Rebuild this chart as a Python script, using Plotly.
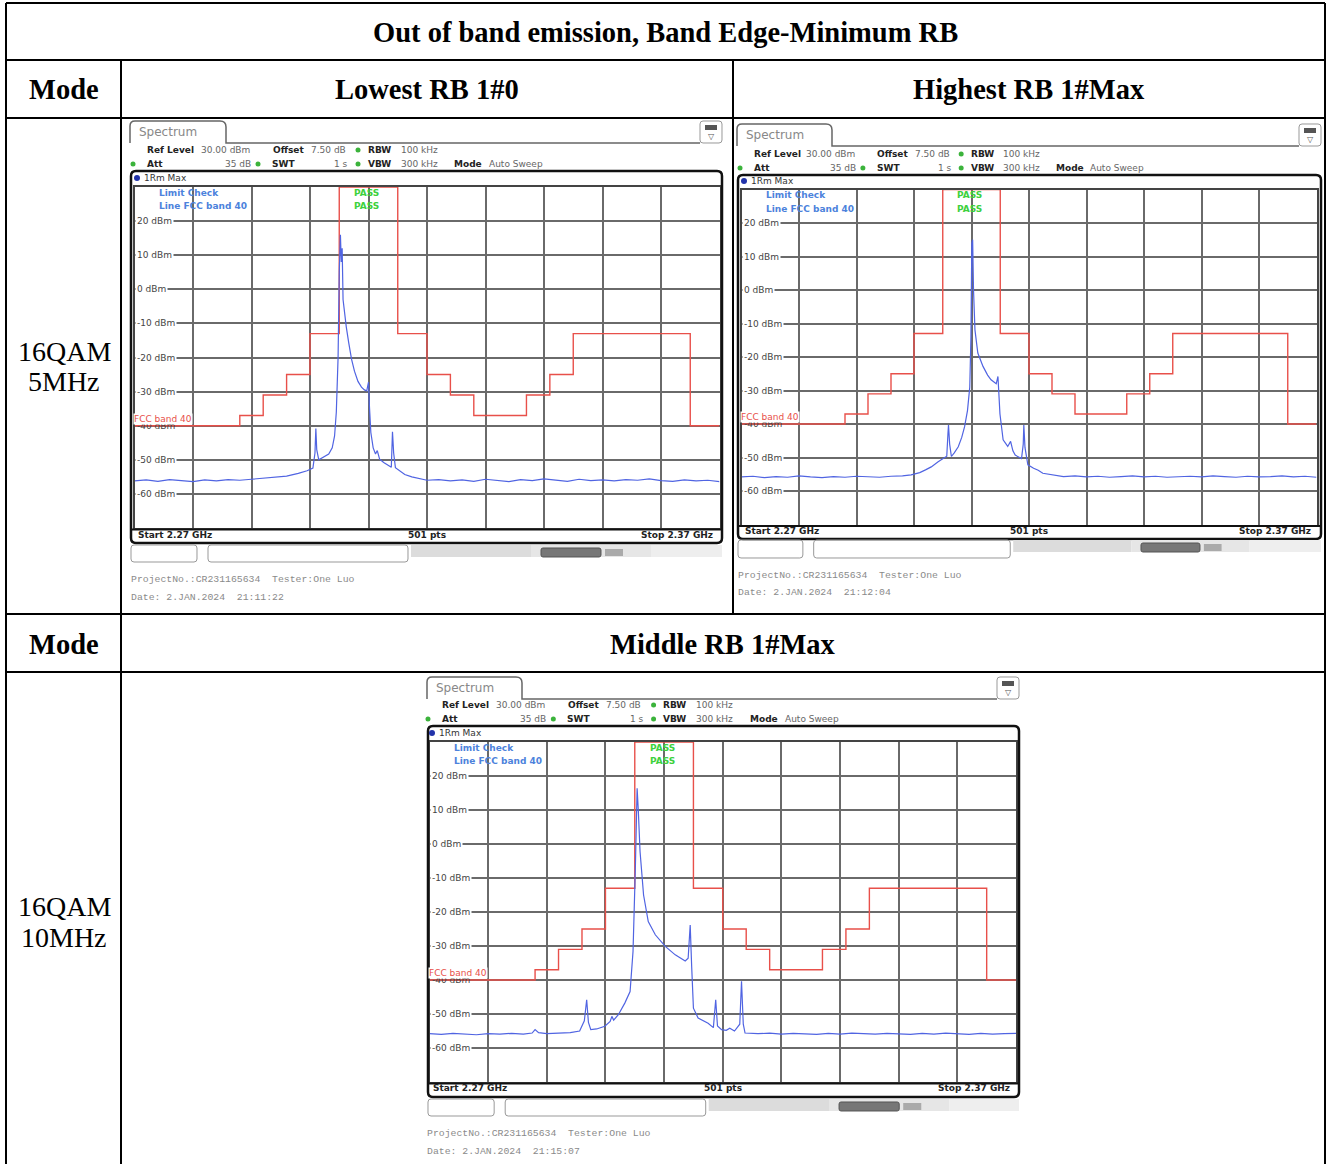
import plotly.graph_objects as go

W, H = 1327, 1164

# ---------------- data ----------------
f_start, f_stop = 2270, 2370          # MHz (Start 2.27 GHz / Stop 2.37 GHz)
level_top, level_bottom = 30, -70     # dBm
level_ticks = [20, 10, 0, -10, -20, -30, -40, -50, -60]
sweep_points = 501

# FCC band 40 limit line (step breakpoints, MHz / dBm)
limit_freq = [2270, 2288, 2292, 2296, 2300, 2305, 2315, 2320, 2324, 2328, 2337, 2341, 2345, 2365, 2370]
limit_dbm = [-40, -37, -31, -25, -13, 30, -13, -25, -31, -37, -31, -25, -13, -40, -40]

# Trace 1Rm Max, Lowest RB 1#0 (16QAM 5MHz)
lowest_freq = [2270, 2272, 2274, 2276, 2278, 2280, 2282, 2284, 2286, 2288, 2290, 2292, 2294, 2296, 2298,
               2299.5, 2300.5, 2300.85, 2301.0, 2301.15, 2301.5, 2302.3, 2303.2, 2303.8, 2304.2, 2304.5,
               2304.8, 2305.0, 2305.2, 2305.35, 2305.5, 2305.65, 2305.9, 2306.2, 2306.6, 2307.1, 2307.6,
               2308.2, 2308.8, 2309.3, 2309.7, 2310.0, 2310.15, 2310.4, 2310.8, 2311.2, 2311.5, 2311.9,
               2312.6, 2313.4, 2313.9, 2314.1, 2314.3, 2314.6, 2315.3, 2316.2, 2317.4, 2318.6, 2320,
               2322, 2324, 2326, 2328, 2330, 2332, 2334, 2336, 2338, 2340, 2342, 2344, 2346, 2348, 2350,
               2352, 2354, 2356, 2358, 2360, 2362, 2364, 2366, 2368, 2370]
lowest_dbm = [-56.2, -55.9, -56.3, -55.8, -56.1, -56.4, -55.9, -56.2, -55.8, -56.0, -55.7, -55.4, -55.2, -54.8, -54.0,
              -53.2, -52.4, -48.0, -40.8, -47.0, -50.0, -49.2, -48.3, -46.5, -43.0, -36.0,
              -20.0, 5.0, 16.0, 8.0, 12.0, -3.0, -7.0, -11.0, -15.5, -20.5, -24.0,
              -27.0, -28.7, -29.5, -29.8, -27.2, -34.0, -42.0, -46.5, -48.3, -47.3, -49.8,
              -50.8, -51.6, -52.2, -41.8, -48.0, -52.3, -53.3, -54.3, -55.0, -55.5, -56.0,
              -55.8, -56.2, -55.9, -56.3, -55.7, -56.0, -56.4, -55.8, -56.1, -55.6, -56.0, -56.3, -55.7, -56.1, -55.9,
              -56.2, -55.8, -56.0, -55.6, -56.1, -56.3, -55.9, -56.2, -56.0, -56.4]

# Trace 1Rm Max, Highest RB 1#Max (16QAM 5MHz)
highest_freq = [2270, 2272, 2274, 2276, 2278, 2280, 2282, 2284, 2286, 2288, 2290, 2292, 2294, 2296, 2298,
                2299.5, 2301, 2302, 2303, 2304.2, 2305.2, 2305.7, 2305.9, 2306.0, 2306.2, 2306.5, 2307.0,
                2307.7, 2308.3, 2308.8, 2309.3, 2309.7, 2309.9, 2310.05, 2310.2, 2310.35, 2310.6, 2311.1,
                2312.0, 2312.8, 2313.4, 2314.0, 2314.3, 2314.6, 2314.75, 2314.95, 2315.5, 2316.3, 2316.8,
                2317.2, 2317.6, 2318.7, 2319.0, 2319.1, 2319.3, 2319.8, 2320.8, 2321.6, 2322.4, 2324.2,
                2326, 2328, 2330, 2332, 2334, 2336, 2338, 2340, 2342, 2344, 2346, 2348, 2350, 2352, 2354,
                2356, 2358, 2360, 2362, 2364, 2366, 2368, 2370]
highest_dbm = [-55.8, -55.6, -56.0, -55.7, -55.9, -55.5, -55.8, -56.0, -55.7, -55.9, -55.6, -55.8, -55.9, -55.6, -55.5,
               -55.2, -54.5, -53.7, -52.8, -51.3, -50.2, -49.6, -43.0, -40.3, -46.0, -49.7, -48.6,
               -46.8, -44.0, -40.8, -36.0, -29.0, -14.0, 14.0, 15.0, 0.0, -11.9, -18.8,
               -22.8, -25.4, -26.8, -27.8, -28.0, -25.8, -30.0, -37.0, -44.7, -46.7, -45.2,
               -48.0, -49.3, -50.3, -46.0, -40.3, -47.0, -52.2, -53.2, -53.8, -54.7, -55.3,
               -55.7, -55.5, -55.8, -55.6, -55.9, -55.7, -55.5, -55.8, -55.6, -55.9, -55.7, -55.6, -55.8, -55.5, -55.7,
               -55.9, -55.6, -55.8, -55.7, -55.5, -55.8, -55.6, -55.9]

# Trace 1Rm Max, Middle RB 1#Max (16QAM 10MHz)
middle_freq = [2270, 2272, 2274, 2276, 2278, 2280, 2282, 2284, 2286, 2287.5, 2288, 2288.6, 2290, 2292, 2294,
               2295.6, 2296.4, 2296.8, 2297.1, 2297.5, 2298.5, 2299.9, 2300.8, 2301.1, 2301.4, 2302.2, 2303.3,
               2304.2, 2304.7, 2305.1, 2305.4, 2305.6, 2305.9, 2306.5, 2307.3, 2308.5, 2310.2, 2311.9, 2313.6,
               2314.1, 2314.45, 2314.7, 2315.0, 2315.8, 2317.5, 2318.4, 2318.8, 2319.1, 2319.8, 2320.6, 2321.2,
               2322.0, 2322.9, 2323.2, 2323.5, 2323.8, 2326, 2328, 2330, 2332, 2334, 2336, 2338, 2340, 2342,
               2344, 2346, 2348, 2350, 2352, 2354, 2356, 2358, 2360, 2362, 2364, 2366, 2368, 2370]
middle_dbm = [-55.8, -56.0, -55.7, -55.9, -56.1, -55.8, -55.9, -55.7, -55.9, -55.6, -54.6, -55.5, -55.8, -55.6, -55.5,
              -55.0, -52.0, -45.8, -52.5, -54.6, -54.4, -53.6, -52.2, -50.7, -51.8, -50.2, -46.8,
              -43.4, -31.6, -7.0, 16.4, 10.0, -2.2, -15.0, -22.8, -26.7, -30.1, -32.6, -34.4,
              -33.6, -23.8, -36.0, -48.3, -51.2, -52.7, -54.0, -45.8, -53.5, -54.6, -54.8, -54.2,
              -55.0, -53.0, -40.4, -53.0, -55.6, -55.8, -55.6, -55.9, -55.7, -55.8, -56.0, -55.7, -55.9, -55.6,
              -55.8, -55.9, -55.7, -55.8, -56.0, -55.7, -55.9, -55.6, -55.8, -56.0, -55.7, -55.9, -55.8, -55.7]

table_title = "Out of band emission, Band Edge-Minimum RB"
mode_label = "Mode"
col_headers = ["Lowest RB 1#0", "Highest RB 1#Max", "Middle RB 1#Max"]
mode_rows = [["16QAM", "5MHz"], ["16QAM", "10MHz"]]
timestamps = ["21:11:22", "21:12:04", "21:15:07"]
project_line = "ProjectNo.:CR231165634&nbsp;&nbsp;Tester:One Luo"
date_text = "Date: 2.JAN.2024"
hdr_row1 = ["<b>Ref Level</b>", "30.00 dBm", "<b>Offset</b>", "7.50 dB", "<b>RBW</b>", "100 kHz"]
hdr_row2 = ["<b>Att</b>", "35 dB", "<b>SWT</b>", "1 s", "<b>VBW</b>", "300 kHz", "<b>Mode</b>", "Auto Sweep"]

# ---------------- helpers ----------------
def px(x):
    return x / W

def py(y):
    return 1 - y / H

shapes, annotations = [], []

def line(x0, y0, x1, y1, color="black", width=2):
    shapes.append(dict(type="line", xref="paper", yref="paper", x0=px(x0), y0=py(y0), x1=px(x1), y1=py(y1),
                       line=dict(color=color, width=width)))

def rect(x0, y0, x1, y1, fill):
    shapes.append(dict(type="rect", xref="paper", yref="paper", x0=px(x0), y0=py(y0), x1=px(x1), y1=py(y1),
                       fillcolor=fill, line=dict(width=0)))

def P(x, y):
    return f"{px(x):.6f},{py(y):.6f}"

def rrect(x0, y0, x1, y1, r, color, width, fill="rgba(0,0,0,0)"):
    path = (f"M{P(x0 + r, y0)} L{P(x1 - r, y0)} Q{P(x1, y0)} {P(x1, y0 + r)} L{P(x1, y1 - r)} "
            f"Q{P(x1, y1)} {P(x1 - r, y1)} L{P(x0 + r, y1)} Q{P(x0, y1)} {P(x0, y1 - r)} "
            f"L{P(x0, y0 + r)} Q{P(x0, y0)} {P(x0 + r, y0)} Z")
    shapes.append(dict(type="path", xref="paper", yref="paper", path=path,
                       line=dict(color=color, width=width), fillcolor=fill))

def dot(x, y, r, color):
    shapes.append(dict(type="circle", xref="paper", yref="paper", x0=px(x - r), y0=py(y + r),
                       x1=px(x + r), y1=py(y - r), fillcolor=color, line=dict(width=0)))

def text(x, y, s, size=9, color="#222", anchor="left", family="DejaVu Sans", bg=None, yanchor="middle"):
    annotations.append(dict(xref="paper", yref="paper", x=px(x), y=py(y), text=s, showarrow=False,
                            xanchor=anchor, yanchor=yanchor, bgcolor=bg, borderpad=0,
                            font=dict(family=family, size=size, color=color)))

fig = go.Figure()

# ---------------- table ----------------
for yy in [3, 60, 118, 614, 672]:
    line(6, yy, 1325, yy)
line(6, 3, 6, 1164)
line(1325, 3, 1325, 1164)
line(121, 60, 121, 1164)
line(733, 60, 733, 614)

serif = "Liberation Serif"
TS = 28.5
text(665, 32, f"<b>{table_title}</b>", TS, "black", "center", serif)
text(64, 90, f"<b>{mode_label}</b>", TS, "black", "center", serif)
text(427, 90, f"<b>{col_headers[0]}</b>", TS, "black", "center", serif)
text(1029, 90, f"<b>{col_headers[1]}</b>", TS, "black", "center", serif)
text(64, 644, f"<b>{mode_label}</b>", TS, "black", "center", serif)
text(723, 644, f"<b>{col_headers[2]}</b>", TS, "black", "center", serif)
text(64, 351, mode_rows[0][0], 28, "black", "center", serif)
text(64, 382, mode_rows[0][1], 28, "black", "center", serif)
text(64, 906, mode_rows[1][0], 28, "black", "center", serif)
text(64, 937, mode_rows[1][1], 28, "black", "center", serif)

# ---------------- spectrum screenshots ----------------
panels = [
    dict(ax="", g=(134.5, 187, 719.5, 528), fr=(131, 171, 722, 543), tab=(130, 121, 226, 143), hdr=(150, 164),
         rm=178, bot=535, box=(545, 562), foot=(130, 579, 597), fx=lowest_freq, fy=lowest_dbm, stamp=timestamps[0]),
    dict(ax="2", g=(741.5, 189.5, 1316.5, 524.5), fr=(738, 175, 1321, 539), tab=(737, 124, 832, 146), hdr=(154, 168),
         rm=181, bot=531, box=(540, 558), foot=(737, 575, 592), fx=highest_freq, fy=highest_dbm, stamp=timestamps[1]),
    dict(ax="3", g=(429.5, 742, 1016, 1082), fr=(428, 726, 1019, 1097), tab=(427, 677, 522, 699), hdr=(705, 719),
         rm=733, bot=1088, box=(1099, 1116), foot=(426, 1133, 1151), fx=middle_freq, fy=middle_dbm, stamp=timestamps[2]),
]

row1_dx = [11.5, 65, 137, 175, 232, 265]
row2_dx = [11.5, 89.5, 136.5, 198.5, 232, 265, 318.5, 353.5]
row1_dots = [223.5]
row2_dots = [-1.5, 123.5, 223.5]

RED = "#e8504a"
BLUE = "#5064e2"
layout_axes = {}

for p in panels:
    ax = p["ax"]
    gx0, gy0, gx1, gy1 = p["g"]
    fx0, fy0, fx1, fy1 = p["fr"]
    tx0, ty0, tx1, ty1 = p["tab"]
    s = (gx1 - gx0) / 585.0
    xname, yname = "x" + ax, "y" + ax

    fig.add_trace(go.Scatter(x=limit_freq, y=limit_dbm, mode="lines", line=dict(color=RED, width=1.4, shape="hv"),
                             xaxis=xname, yaxis=yname, showlegend=False, hoverinfo="skip"))
    fig.add_trace(go.Scatter(x=p["fx"], y=p["fy"], mode="lines", line=dict(color=BLUE, width=1.2),
                             xaxis=xname, yaxis=yname, showlegend=False, hoverinfo="skip"))

    layout_axes["xaxis" + ax] = dict(domain=[px(gx0), px(gx1)], range=[f_start, f_stop], tick0=f_start, dtick=10,
                                     showgrid=True, gridcolor="#6a6a6a", gridwidth=1.5, zeroline=False,
                                     showticklabels=False, ticks="", showline=True, linecolor="#444",
                                     linewidth=1.5, mirror=True, anchor=yname, fixedrange=True)
    layout_axes["yaxis" + ax] = dict(domain=[py(gy1), py(gy0)], range=[level_bottom, level_top], tick0=level_bottom,
                                     dtick=10, showgrid=True, gridcolor="#6a6a6a", gridwidth=1.5, zeroline=True,
                                     zerolinecolor="#6a6a6a", zerolinewidth=1.5, showticklabels=False, ticks="",
                                     showline=True, linecolor="#444", linewidth=1.5, mirror=True, anchor=xname,
                                     fixedrange=True)

    # tab + header frame
    path = (f"M{P(tx0, ty1)} L{P(tx0, ty0 + 5)} Q{P(tx0, ty0)} {P(tx0 + 5, ty0)} L{P(tx1 - 6, ty0)} "
            f"Q{P(tx1, ty0)} {P(tx1, ty0 + 6)} L{P(tx1, ty1)} L{P(fx1 - 22, ty1)}")
    shapes.append(dict(type="path", xref="paper", yref="paper", path=path, line=dict(color="#666", width=1.5)))
    text(tx0 + 8, (ty0 + ty1) / 2, "Spectrum", 12, "#888")
    rrect(fx1 - 22, ty0, fx1, ty1, 3, "#999", 1)
    rect(fx1 - 17, ty0 + 4, fx1 - 5, ty0 + 9, "#555")
    text(fx1 - 11, ty0 + 15, "▽", 8, "#555", "center")

    for dx, t in zip(row1_dx, hdr_row1):
        text(gx0 + dx * s, p["hdr"][0], t, 9, "#222" if t.startswith("<b>") else "#666")
    for dx, t in zip(row2_dx, hdr_row2):
        text(gx0 + dx * s, p["hdr"][1], t, 9, "#222" if t.startswith("<b>") else "#666")
    for dx in row1_dots:
        dot(gx0 + dx * s, p["hdr"][0], 2.5, "#3bb33b")
    for dx in row2_dots:
        dot(gx0 + dx * s, p["hdr"][1], 2.5, "#3bb33b")

    # main frame
    rrect(fx0, fy0, fx1, fy1, 5, "#111", 2.5)
    dot(gx0 + 2.5, p["rm"], 3, "#2233aa")
    text(gx0 + 8, p["rm"], "1Rm Max", 9, "#333")
    line(fx0, gy1 + 1.5, fx1, gy1 + 1.5, "#111", 2)
    text(gx0 + 2, p["bot"], f"<b>Start {f_start / 1000:.2f} GHz</b>", 9, "#222")
    text((gx0 + gx1) / 2, p["bot"], f"<b>{sweep_points} pts</b>", 9, "#222", "center")
    text(gx1 - 5, p["bot"], f"<b>Stop {f_stop / 1000:.2f} GHz</b>", 9, "#222", "right")

    # limit check labels
    text(gx0 + 23.5 * s, gy0 + 6, "<b>Limit Check</b>", 9, "#4c82dc")
    text(gx0 + 23.5 * s, gy0 + 19, "<b>Line FCC band 40</b>", 9, "#4c82dc")
    text(gx0 + 218.5 * s, gy0 + 6, "<b>PASS</b>", 9, "#3dd13d")
    text(gx0 + 218.5 * s, gy0 + 19, "<b>PASS</b>", 9, "#3dd13d")

    # level labels
    for v in level_ticks:
        annotations.append(dict(xref=xname, yref=yname, x=f_start, y=v, xshift=0.5, text=f"{v} dBm",
                                showarrow=False, xanchor="left", yanchor="middle", borderpad=1,
                                bgcolor=None if v == -40 else "white",
                                font=dict(family="DejaVu Sans", size=9, color="#444")))
    annotations.append(dict(xref=xname, yref=yname, x=f_start, y=-40, xshift=-2, yshift=1, text="FCC band 40",
                            showarrow=False, xanchor="left", yanchor="bottom", borderpad=0, bgcolor="white",
                            font=dict(family="DejaVu Sans", size=9, color=RED)))

    # soft-key boxes & status strip
    b0, b1 = p["box"]
    rrect(fx0, b0, fx0 + 66 * s, b1, 3, "#999", 1)
    rrect(fx0 + 77 * s, b0, fx0 + 277 * s, b1, 3, "#999", 1)
    rect(fx0 + 280 * s, b0, fx0 + 400 * s, b0 + 12, "#dcdcdc")
    rect(fx0 + 400 * s, b0, fx0 + 520 * s, b0 + 12, "#e6e6e6")
    rect(fx0 + 520 * s, b0, fx1, b0 + 12, "#eeeeee")
    rrect(fx0 + 410 * s, b0 + 3, fx0 + 470 * s, b0 + 12, 2, "#555", 1, "#777")
    rect(fx0 + 474 * s, b0 + 4, fx0 + 492 * s, b0 + 11, "#aaa")

    # footer
    fxp, f1, f2 = p["foot"]
    text(fxp, f1, project_line, 9.8, "#8a8a8a", family="Liberation Mono")
    text(fxp, f2, f"{date_text}&nbsp;&nbsp;{p['stamp']}", 9.8, "#8a8a8a", family="Liberation Mono")

fig.update_layout(width=W, height=H, margin=dict(l=0, r=0, t=0, b=0), autosize=False,
                  paper_bgcolor="white", plot_bgcolor="white", showlegend=False,
                  shapes=shapes, annotations=annotations, **layout_axes)

fig.write_html("out.html")
